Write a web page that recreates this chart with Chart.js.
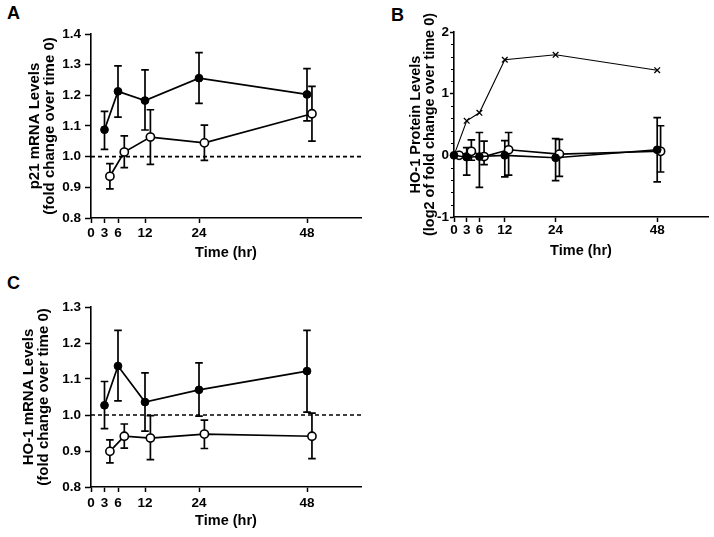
<!DOCTYPE html>
<html>
<head>
<meta charset="utf-8">
<script src="https://cdn.jsdelivr.net/npm/chart.js@4/dist/chart.umd.min.js"></script>
<style>
  body { margin: 0; background: #fff; }
  #wrap { position: relative; width: 714px; height: 537px; overflow: hidden; background: #fff; }
  canvas { position: absolute; }
  .letter { position: absolute; font: bold 18px "Liberation Sans", Arial, sans-serif; color: #000; }
</style>
</head>
<body>
<div id="wrap">
  <div class="letter" style="left:7px;top:3px">A</div>
  <div class="letter" style="left:391px;top:5px">B</div>
  <div class="letter" style="left:7px;top:273px">C</div>
  <canvas id="chartA" width="370" height="270" style="left:0;top:0"></canvas>
  <canvas id="chartB" width="354" height="270" style="left:360px;top:0"></canvas>
  <canvas id="chartC" width="370" height="267" style="left:0;top:270px"></canvas>
</div>
<script>
// x positions (hours); the open series is nudged right as in the original plot
const hoursFilled = [3, 6, 12, 24, 48];
const hoursOpen = [4.2, 7.4, 13.2, 25.2, 49.1];
const xTickLabels = [0, 3, 6, 12, 24, 48];

// A: p21 mRNA
const p21Filled = [1.088, 1.213, 1.183, 1.256, 1.203];
const p21FilledLo = [1.024, 1.129, 1.087, 1.174, 1.117];
const p21FilledHi = [1.148, 1.296, 1.283, 1.339, 1.287];
const p21Open = [0.936, 1.015, 1.064, 1.045, 1.140];
const p21OpenLo = [0.895, 0.964, 0.975, 0.988, 1.051];
const p21OpenHi = [0.977, 1.068, 1.153, 1.103, 1.229];
const p21Ticks = [0.8, 0.9, 1.0, 1.1, 1.2, 1.3, 1.4];

// B: HO-1 protein (log2)
const hoursB = [0, 3, 6, 12, 24, 48];
const hoursBOpen = [1.2, 4.1, 7.1, 12.9, 24.9, 48.8];
const protCross = [0, 0.56, 0.69, 1.55, 1.63, 1.38];
const protFilled = [0, -0.03, -0.02, 0.0, -0.04, 0.09];
const protFilledLo = [null, -0.32, -0.52, -0.35, -0.41, -0.43];
const protFilledHi = [null, 0.125, 0.37, 0.24, 0.27, 0.61];
const protOpen = [0, 0.065, -0.02, 0.09, 0.02, 0.065];
const protOpenLo = [null, -0.08, -0.15, -0.32, -0.34, -0.27];
const protOpenHi = [null, 0.25, 0.23, 0.37, 0.26, 0.48];
const protTicks = [-1, 0, 1, 2];

// C: HO-1 mRNA
const hoFilled = [1.027, 1.136, 1.036, 1.070, 1.122];
const hoFilledLo = [0.962, 1.039, 0.955, 0.997, 1.008];
const hoFilledHi = [1.093, 1.235, 1.117, 1.145, 1.235];
const hoOpen = [0.899, 0.941, 0.936, 0.947, 0.941];
const hoOpenLo = [0.867, 0.908, 0.876, 0.907, 0.879];
const hoOpenHi = [0.931, 0.975, 0.998, 0.986, 1.005];
const hoTicks = [0.8, 0.9, 1.0, 1.1, 1.2, 1.3];

const baseline = 1.0;

const FONT = '"Liberation Sans", Arial, Helvetica, sans-serif';
Chart.defaults.color = '#000';
Chart.defaults.font.family = FONT;

const pts = (xs, ys) => xs.map((x, i) => ({x: x, y: ys[i]}));

const errorBars = {
  id: 'errorBars',
  beforeDatasetsDraw(chart) {
    const {ctx, scales: {x, y}} = chart;
    chart.data.datasets.forEach(ds => {
      if (!ds.errLo) return;
      ctx.save();
      ctx.strokeStyle = '#000';
      ctx.lineWidth = 1.7;
      ds.data.forEach((p, j) => {
        const lo = ds.errLo[j], hi = ds.errHi[j];
        if (lo == null) return;
        const px = x.getPixelForValue(p.x);
        const y1 = y.getPixelForValue(lo), y2 = y.getPixelForValue(hi);
        ctx.beginPath();
        ctx.moveTo(px, y1); ctx.lineTo(px, y2);
        ctx.moveTo(px - 3.8, y1); ctx.lineTo(px + 3.8, y1);
        ctx.moveTo(px - 3.8, y2); ctx.lineTo(px + 3.8, y2);
        ctx.stroke();
      });
      ctx.restore();
    });
  }
};

// small ticks between the labelled ones on panel B's y axis
const minorTicks = {
  id: 'minorTicks',
  afterDraw(chart, args, opts) {
    if (!opts.step) return;
    const {ctx, scales: {y}, chartArea} = chart;
    ctx.save();
    ctx.strokeStyle = '#000';
    ctx.lineWidth = 1;
    for (let v = y.min; v <= y.max + 1e-9; v += opts.step) {
      if (Math.abs(v - Math.round(v)) < 1e-6) continue;
      const py = Math.round(y.getPixelForValue(v)) + 0.5;
      ctx.beginPath();
      ctx.moveTo(chartArea.left - 3, py);
      ctx.lineTo(chartArea.left, py);
      ctx.stroke();
    }
    ctx.restore();
  }
};

function filledSet(xs, ys, lo, hi, lw) {
  return {
    data: pts(xs, ys), errLo: lo, errHi: hi,
    borderColor: '#000', borderWidth: lw, pointRadius: 3.9,
    pointBackgroundColor: '#000', pointBorderColor: '#000', pointBorderWidth: 1,
    showLine: true, tension: 0, clip: false
  };
}
function openSet(xs, ys, lo, hi, lw) {
  return {
    data: pts(xs, ys), errLo: lo, errHi: hi,
    borderColor: '#000', borderWidth: lw, pointRadius: 4.1,
    pointBackgroundColor: '#fff', pointBorderColor: '#000', pointBorderWidth: 1.6,
    showLine: true, tension: 0, clip: false
  };
}
function dashSet(y) {
  return {
    data: [{x: 0, y: y}, {x: 60, y: y}],
    borderColor: '#000', borderWidth: 1.6, borderDash: [4, 3],
    pointRadius: 0, showLine: true, clip: false
  };
}

function makeChart(id, cfg) {
  return new Chart(document.getElementById(id), {
    type: 'scatter',
    data: {datasets: cfg.datasets},
    options: {
      responsive: false,
      animation: false,
      events: [],
      layout: {padding: cfg.padding},
      plugins: {
        legend: {display: false},
        tooltip: {enabled: false},
        minorTicks: {step: cfg.minorStep || 0}
      },
      scales: {
        x: {
          type: 'linear', min: 0, max: 60,
          afterFit: s => { s.height = cfg.xHeight; },
          afterBuildTicks: s => { s.ticks = xTickLabels.map(v => ({value: v})); },
          grid: {drawOnChartArea: false, drawTicks: true, tickLength: 5, tickColor: '#000', tickWidth: 1.5},
          border: {display: true, color: '#000', width: 1.6},
          ticks: {font: {size: 13.5, weight: 'bold'}, padding: cfg.xPad, maxRotation: 0, autoSkip: false},
          title: {display: true, text: 'Time (hr)', font: {size: 14.5, weight: 'bold', lineHeight: 1.0},
                  padding: {top: 0, bottom: cfg.xTitlePad}}
        },
        y: {
          type: 'linear', min: cfg.yMin, max: cfg.yMax,
          afterFit: s => { s.width = cfg.yWidth; },
          afterBuildTicks: s => { s.ticks = cfg.yTicks.map(v => ({value: v})); },
          grid: {drawOnChartArea: false, drawTicks: true, tickLength: cfg.yTick, tickColor: '#000', tickWidth: 1.5},
          border: {display: true, color: '#000', width: 1.6},
          ticks: {font: {size: 13.5, weight: 'bold'}, padding: cfg.yPad, autoSkip: false,
                  callback: v => cfg.yFmt(v)},
          title: {display: true, text: cfg.yTitle, font: {size: cfg.yTitleSize, weight: 'bold', lineHeight: 0.97},
                  padding: {top: cfg.yTitlePad, bottom: 0}}
        }
      }
    },
    plugins: [errorBars, minorTicks]
  });
}

makeChart('chartA', {
  datasets: [
    filledSet(hoursFilled, p21Filled, p21FilledLo, p21FilledHi, 1.7),
    openSet(hoursOpen, p21Open, p21OpenLo, p21OpenHi, 1.7),
    dashSet(baseline)
  ],
  padding: {top: 34, right: 9, left: 0, bottom: 0},
  xHeight: 52, xPad: 2, xTitlePad: 10,
  yMin: 0.8, yMax: 1.4, yTicks: p21Ticks, yWidth: 91, yTick: 6, yPad: 4,
  yFmt: v => v.toFixed(1),
  yTitle: ['p21 mRNA Levels', '(fold change over time 0)'], yTitlePad: 28, yTitleSize: 15
});

makeChart('chartB', {
  datasets: [
    {
      data: pts(hoursB, protCross), borderColor: '#000', borderWidth: 1.1,
      pointStyle: 'crossRot', pointRadius: 4, pointBorderWidth: 1.3, pointBorderColor: '#000',
      showLine: true, tension: 0, clip: false
    },
    filledSet(hoursB, protFilled, protFilledLo, protFilledHi, 1.6),
    openSet(hoursBOpen, protOpen, protOpenLo, protOpenHi, 1.6)
  ],
  padding: {top: 32, right: 6, left: 0, bottom: 0},
  xHeight: 53, xPad: 0, xTitlePad: 12,
  yMin: -1, yMax: 2, yTicks: protTicks, yWidth: 94, yTick: 4, yPad: 1,
  yFmt: v => String(v), minorStep: 0.2,
  yTitle: ['HO-1 Protein Levels', '(log2 of fold change over time 0)'], yTitlePad: 49, yTitleSize: 14.5
});

makeChart('chartC', {
  datasets: [
    filledSet(hoursFilled, hoFilled, hoFilledLo, hoFilledHi, 1.7),
    openSet(hoursOpen, hoOpen, hoOpenLo, hoOpenHi, 1.7),
    dashSet(baseline)
  ],
  padding: {top: 37, right: 9, left: 0, bottom: 0},
  xHeight: 50, xPad: 3, xTitlePad: 9,
  yMin: 0.8, yMax: 1.3, yTicks: hoTicks, yWidth: 91, yTick: 6, yPad: 4,
  yFmt: v => v.toFixed(1),
  yTitle: ['HO-1 mRNA Levels', '(fold change over time 0)'], yTitlePad: 22, yTitleSize: 15
});
</script>
</body>
</html>
